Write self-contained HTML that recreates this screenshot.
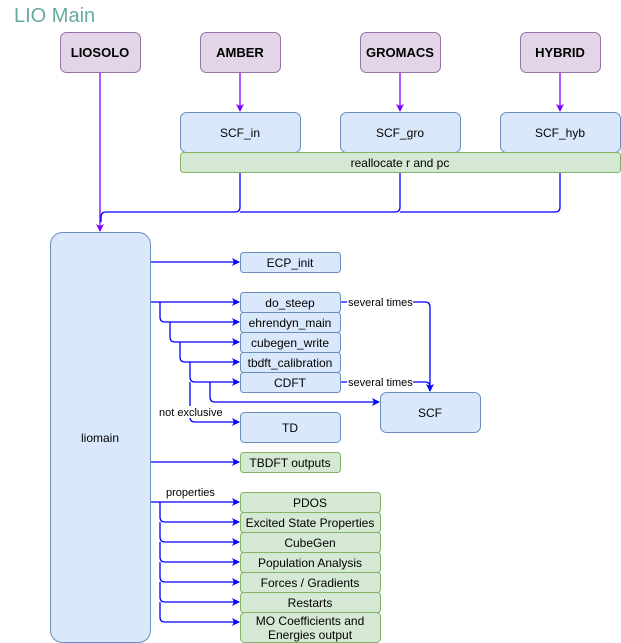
<!DOCTYPE html>
<html><head><meta charset="utf-8"><style>
html,body{margin:0;padding:0;background:#fff;}
svg{display:block;font-family:"Liberation Sans",Arial,sans-serif;}
</style></head><body>
<svg width="621" height="643" viewBox="0 0 621 643" xmlns="http://www.w3.org/2000/svg">
<defs>
<marker id="ab" markerWidth="8" markerHeight="8" refX="7" refY="4" orient="auto" markerUnits="userSpaceOnUse"><path d="M0,0 L8,4 L0,8 L2,4 Z" fill="#0000ff"/></marker>
<marker id="ap" markerWidth="8" markerHeight="8" refX="7" refY="4" orient="auto" markerUnits="userSpaceOnUse"><path d="M0,0 L8,4 L0,8 L2,4 Z" fill="#7f00ff"/></marker>
</defs>
<text x="14" y="22" font-size="20" fill="#67ab9f">LIO Main</text>
<g fill="#e1d5e7" stroke="#9673a6">
<rect x="60.5" y="32.5" width="80" height="40" rx="6"/>
<rect x="200.5" y="32.5" width="80" height="40" rx="6"/>
<rect x="360.5" y="32.5" width="80" height="40" rx="6"/>
<rect x="520.5" y="32.5" width="80" height="40" rx="6"/>
</g>
<g font-size="13" font-weight="bold" text-anchor="middle" fill="#000">
<text x="100" y="57">LIOSOLO</text><text x="240" y="57">AMBER</text><text x="400" y="57">GROMACS</text><text x="560" y="57">HYBRID</text>
</g>
<g fill="#dae8fc" stroke="#6c8ebf">
<rect x="180.5" y="112.5" width="120" height="40" rx="6"/>
<rect x="340.5" y="112.5" width="120" height="40" rx="6"/>
<rect x="500.5" y="112.5" width="120" height="40" rx="6"/>
</g>
<rect x="180.5" y="152.5" width="440" height="20" rx="3" fill="#d5e8d4" stroke="#82b366"/>
<g font-size="12" text-anchor="middle" fill="#000">
<text x="240" y="137">SCF_in</text><text x="400" y="137">SCF_gro</text><text x="560" y="137">SCF_hyb</text>
<text x="400" y="167">reallocate r and pc</text>
</g>
<g stroke="#7f00ff" stroke-width="1.3" fill="none">
<path d="M240,73 V111" marker-end="url(#ap)"/>
<path d="M400,73 V111" marker-end="url(#ap)"/>
<path d="M560,73 V111" marker-end="url(#ap)"/>
<path d="M100,73 V231" marker-end="url(#ap)"/>
</g>
<g stroke="#0000ff" stroke-width="1.3" fill="none">
<path d="M240,173 V207 Q240,212 235,212 H106 Q101,212 101,217 V222"/>
<path d="M400,173 V207 Q400,212 395,212 H240"/>
<path d="M560,173 V207 Q560,212 555,212 H400"/>
</g>
<rect x="50.5" y="232.5" width="100" height="410" rx="12" fill="#dae8fc" stroke="#6c8ebf"/>
<text x="100" y="442" font-size="12" text-anchor="middle">liomain</text>
<g fill="#dae8fc" stroke="#6c8ebf">
<rect x="240.5" y="252.5" width="100" height="20" rx="3"/>
<rect x="240.5" y="292.5" width="100" height="20" rx="3"/>
<rect x="240.5" y="312.5" width="100" height="20" rx="3"/>
<rect x="240.5" y="332.5" width="100" height="20" rx="3"/>
<rect x="240.5" y="352.5" width="100" height="20" rx="3"/>
<rect x="240.5" y="372.5" width="100" height="20" rx="3"/>
<rect x="240.5" y="412.5" width="100" height="30" rx="4"/>
<rect x="380.5" y="392.5" width="100" height="40" rx="6"/>
</g>
<g fill="#d5e8d4" stroke="#82b366">
<rect x="240.5" y="452.5" width="100" height="20" rx="3"/>
<rect x="240.5" y="492.5" width="140" height="20" rx="3"/>
<rect x="240.5" y="512.5" width="140" height="20" rx="3"/>
<rect x="240.5" y="532.5" width="140" height="20" rx="3"/>
<rect x="240.5" y="552.5" width="140" height="20" rx="3"/>
<rect x="240.5" y="572.5" width="140" height="20" rx="3"/>
<rect x="240.5" y="592.5" width="140" height="20" rx="3"/>
<rect x="240.5" y="612.5" width="140" height="30" rx="4"/>
</g>
<g font-size="12" text-anchor="middle" fill="#000">
<text x="290" y="267">ECP_init</text>
<text x="290" y="307">do_steep</text>
<text x="290" y="327">ehrendyn_main</text>
<text x="290" y="347">cubegen_write</text>
<text x="290" y="367">tbdft_calibration</text>
<text x="290" y="387">CDFT</text>
<text x="290" y="432">TD</text>
<text x="430" y="417">SCF</text>
<text x="290" y="467">TBDFT outputs</text>
<text x="310" y="507">PDOS</text>
<text x="310" y="527">Excited State Properties</text>
<text x="310" y="547">CubeGen</text>
<text x="310" y="567">Population Analysis</text>
<text x="310" y="587">Forces / Gradients</text>
<text x="310" y="607">Restarts</text>
<text x="310" y="625">MO Coefficients and</text>
<text x="310" y="639">Energies output</text>
</g>
<g stroke="#0000ff" stroke-width="1.3" fill="none">
<path d="M151,262 H239" marker-end="url(#ab)"/>
<path d="M151,302 H239" marker-end="url(#ab)"/>
<path d="M160,302 V317 Q160,322 165,322 H239" marker-end="url(#ab)"/>
<path d="M170,322 V337 Q170,342 175,342 H239" marker-end="url(#ab)"/>
<path d="M180,342 V357 Q180,362 185,362 H239" marker-end="url(#ab)"/>
<path d="M190,362 V377 Q190,382 195,382 H239" marker-end="url(#ab)"/>
<path d="M190,382 V417 Q190,422 195,422 H239" marker-end="url(#ab)" stroke-dasharray="none"/>
<path d="M210,382 V397 Q210,402 215,402 H379" marker-end="url(#ab)"/>
<path d="M341,302 H425 Q430,302 430,307 V391" marker-end="url(#ab)"/>
<path d="M341,382 H425 Q430,382 430,387 V391"/>
<path d="M151,462 H239" marker-end="url(#ab)"/>
<path d="M151,502 H239" marker-end="url(#ab)"/>
<path d="M160,502 V517 Q160,522 165,522 H239" marker-end="url(#ab)"/>
<path d="M160,522 V537 Q160,542 165,542 H239" marker-end="url(#ab)"/>
<path d="M160,542 V557 Q160,562 165,562 H239" marker-end="url(#ab)"/>
<path d="M160,562 V577 Q160,582 165,582 H239" marker-end="url(#ab)"/>
<path d="M160,582 V597 Q160,602 165,602 H239" marker-end="url(#ab)"/>
<path d="M160,602 V617 Q160,622 165,622 H239" marker-end="url(#ab)"/>
</g>
<g font-size="11" fill="#000">
<rect x="347" y="296" width="66" height="12" fill="#fff"/>
<text x="348" y="306">several times</text>
<rect x="347" y="376" width="66" height="12" fill="#fff"/>
<text x="348" y="386">several times</text>
<rect x="158" y="406" width="66" height="12" fill="#fff"/>
<text x="159" y="416">not exclusive</text>
<text x="166" y="496">properties</text>
</g>
</svg>
</body></html>
